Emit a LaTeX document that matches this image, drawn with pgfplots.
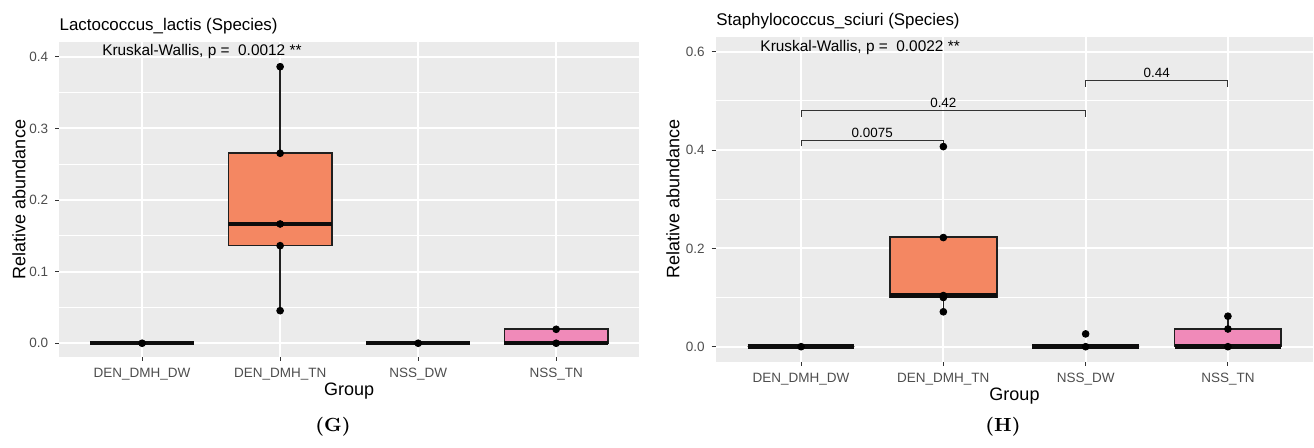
\documentclass[border=0pt]{standalone}
\usepackage{fontspec}
\setmainfont{Liberation Sans}
\newfontfamily\capfont{Latin Modern Roman}
\usepackage{pgfplots}
\pgfplotsset{compat=1.18}
\usepgfplotslibrary{statistics}
\definecolor{panel}{HTML}{EBEBEB}
\definecolor{gray20}{HTML}{333333}
\definecolor{gray30}{HTML}{4D4D4D}
\definecolor{boxorange}{HTML}{F48762}
\definecolor{boxpink}{HTML}{F08AB9}
\pgfplotsset{gg/.style={
  scale only axis, anchor=south west,
  axis background/.style={fill=panel},
  axis line style={draw=none},
  xmin=-0.6, xmax=3.6,
  xtick={0,1,2,3},
  xticklabels={DEN\_DMH\_DW,DEN\_DMH\_TN,NSS\_DW,NSS\_TN},
  tick align=outside, tick pos=left,
  major tick length=2pt, minor tick length=0pt,
  tick style={draw=gray20, line width=0.5pt},
  grid=both,
  major grid style={draw=white, line width=1pt},
  minor grid style={draw=white, line width=0.5pt},
  ticklabel style={font=\fontsize{6.75}{8}\selectfont, text=gray30},
  /pgf/number format/assume math mode=true,
  yticklabel style={/pgf/number format/fixed, /pgf/number format/fixed zerofill, /pgf/number format/precision=1},
  label style={font=\fontsize{9}{10}\selectfont},
  xlabel={Group}, ylabel={Relative abundance},
  xlabel style={at={(axis description cs:0.5,0)}, anchor=north, inner sep=0pt, yshift=-13pt},
  boxplot/draw direction=y,
  boxplot/box extend=0.75,
  boxplot/whisker extend=0,
  boxplot/every median/.style={draw=black!95, line width=2.2pt},
  clip=false,
}}
\begin{document}
\begin{tikzpicture}
\path[use as bounding box] (0,0) rectangle (657pt,224pt);
% ---------------- left panel (G)
\begin{axis}[gg, at={(29.65pt,45.5pt)}, width=289.85pt, height=157.5pt,
  ymin=-0.0192, ymax=0.4208,
  ytick={0,0.1,0.2,0.3,0.4}, minor ytick={0.05,0.15,0.25,0.35},
  ylabel style={at={(axis description cs:-0.0695,0.5)}, anchor=center}]
\addplot[boxplot prepared={lower whisker=0, lower quartile=0, median=0, upper quartile=0, upper whisker=0, draw position=0}, draw=black!88, fill=boxorange, line width=0.8pt] coordinates {};
\addplot[boxplot prepared={lower whisker=0.0455, lower quartile=0.1363, median=0.1666, upper quartile=0.2654, upper whisker=0.3863, draw position=1}, draw=black!88, fill=boxorange, line width=0.8pt] coordinates {};
\addplot[boxplot prepared={lower whisker=0, lower quartile=0, median=0, upper quartile=0, upper whisker=0, draw position=2}, draw=black!88, fill=boxpink, line width=0.8pt] coordinates {};
\addplot[boxplot prepared={lower whisker=0, lower quartile=0, median=0, upper quartile=0.0195, upper whisker=0.0195, draw position=3}, draw=black!88, fill=boxpink, line width=0.8pt] coordinates {};
\addplot[only marks, mark=*, mark size=1.7pt, black] coordinates {
 (0,0) (1,0.3863) (1,0.2654) (1,0.1666) (1,0.1363) (1,0.0455) (2,0) (3,0.0195) (3,0)};
\node[anchor=base west, inner sep=0pt, font=\fontsize{7.7}{9}\selectfont] at (axis cs:-0.2916,0.402) {Kruskal-Wallis, p =\ \ 0.0012 **};
\end{axis}
% ---------------- right panel (H)
\begin{axis}[gg, at={(357.85pt,43.15pt)}, width=298.8pt, height=162.5pt,
  ymin=-0.0305, ymax=0.6305,
  ytick={0,0.2,0.4,0.6}, minor ytick={0.1,0.3,0.5},
  ylabel style={at={(axis description cs:-0.0715,0.5)}, anchor=center}]
\addplot[boxplot prepared={lower whisker=0, lower quartile=0, median=0, upper quartile=0, upper whisker=0, draw position=0}, draw=black!88, fill=boxorange, line width=0.8pt] coordinates {};
\addplot[boxplot prepared={lower whisker=0.071, lower quartile=0.100, median=0.104, upper quartile=0.223, upper whisker=0.223, draw position=1}, draw=black!88, fill=boxorange, line width=0.8pt] coordinates {};
\addplot[boxplot prepared={lower whisker=0, lower quartile=0, median=0, upper quartile=0, upper whisker=0, draw position=2}, draw=black!88, fill=boxpink, line width=0.8pt] coordinates {};
\addplot[boxplot prepared={lower whisker=0, lower quartile=0, median=0, upper quartile=0.036, upper whisker=0.062, draw position=3}, draw=black!88, fill=boxpink, line width=0.8pt] coordinates {};
\addplot[only marks, mark=*, mark size=1.7pt, black] coordinates {
 (0,0) (1,0.407) (1,0.222) (1,0.104) (1,0.100) (1,0.071) (2,0.026) (2,0) (3,0.062) (3,0.036) (3,0)};
% significance brackets
\addplot[draw=gray20, line width=0.5pt] coordinates {(0,0.408) (0,0.4203) (1,0.4203) (1,0.408)};
\addplot[draw=gray20, line width=0.5pt] coordinates {(0,0.4678) (0,0.48) (2,0.48) (2,0.4678)};
\addplot[draw=gray20, line width=0.5pt] coordinates {(2,0.5288) (2,0.541) (3,0.541) (3,0.5288)};
\node[anchor=base, inner sep=0pt, font=\fontsize{6.7}{8}\selectfont] at (axis cs:0.5,0.4245) {0.0075};
\node[anchor=base, inner sep=0pt, font=\fontsize{6.7}{8}\selectfont] at (axis cs:1,0.487) {0.42};
\node[anchor=base, inner sep=0pt, font=\fontsize{6.7}{8}\selectfont] at (axis cs:2.5,0.548) {0.44};
\node[anchor=base west, inner sep=0pt, font=\fontsize{7.7}{9}\selectfont] at (axis cs:-0.288,0.601) {Kruskal-Wallis, p =\ \ 0.0022 **};
\end{axis}
% titles and captions
\node[anchor=base west, inner sep=0pt, font=\fontsize{8.45}{10}\selectfont] at (29.65pt,208.5pt) {Lactococcus\_lactis (Species)};
\node[anchor=base west, inner sep=0pt, font=\fontsize{8.45}{10}\selectfont] at (358pt,211.25pt) {Staphylococcus\_sciuri (Species)};
\node[inner sep=0pt, font=\capfont\bfseries\fontsize{9.5}{11}\selectfont] at (166.5pt,10.5pt) {(G)};
\node[inner sep=0pt, font=\capfont\bfseries\fontsize{9.5}{11}\selectfont] at (501.5pt,10.5pt) {(H)};
\end{tikzpicture}
\end{document}
